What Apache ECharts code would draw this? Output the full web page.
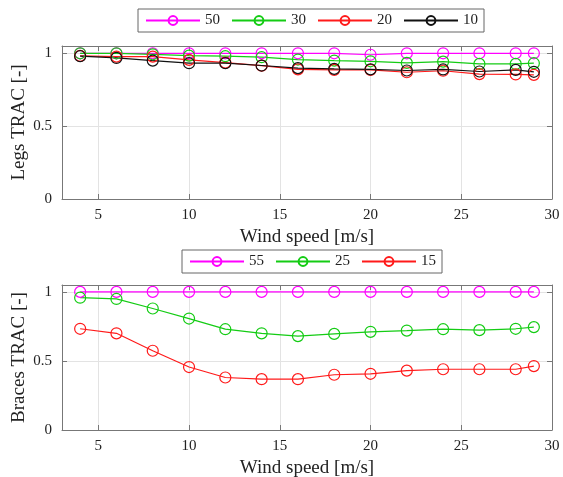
<!DOCTYPE html>
<html>
<head>
<meta charset="utf-8">
<script src="https://cdn.jsdelivr.net/npm/echarts@6/dist/echarts.min.js"></script>
<style>
  html, body { margin: 0; padding: 0; background: #fff; }
  #main { width: 563px; height: 477px; }
</style>
</head>
<body>
<div id="main"></div>
<script>
// wind speeds [m/s]
var windSpeed = [4, 6, 8, 10, 12, 14, 16, 18, 20, 22, 24, 26, 28, 29];

// Legs TRAC
var legs50 = [1.0, 1.0, 1.0, 1.0, 1.0, 1.0, 1.0, 1.0, 0.99, 1.0, 1.0, 1.0, 1.0, 1.0];
var legs30 = [1.0, 1.0, 0.993, 0.984, 0.98, 0.973, 0.957, 0.95, 0.945, 0.934, 0.943, 0.927, 0.927, 0.932];
var legs20 = [0.982, 0.977, 0.977, 0.955, 0.936, 0.915, 0.89, 0.886, 0.886, 0.87, 0.88, 0.857, 0.855, 0.852];
var legs10 = [0.98, 0.968, 0.95, 0.932, 0.932, 0.916, 0.898, 0.893, 0.89, 0.882, 0.889, 0.875, 0.886, 0.873];

// Braces TRAC
var braces55 = [1.0, 1.0, 1.0, 1.0, 1.0, 1.0, 1.0, 1.0, 1.0, 1.0, 1.0, 1.0, 1.0, 1.0];
var braces25 = [0.958, 0.949, 0.88, 0.807, 0.73, 0.70, 0.68, 0.696, 0.711, 0.72, 0.73, 0.723, 0.733, 0.745];
var braces15 = [0.733, 0.70, 0.574, 0.456, 0.38, 0.368, 0.368, 0.40, 0.407, 0.43, 0.44, 0.44, 0.44, 0.463];

var legsNames = ['50', '30', '20', '10'];
var bracesNames = ['55', '25', '15'];
var yTicks = [0, 0.5, 1];

var colors = { '50': '#ff00ff', '55': '#ff00ff', '30': '#14cc14', '25': '#14cc14', '20': '#ff1a1a', '15': '#ff1a1a', '10': '#111111' };
var font = 'Liberation Serif';
var frameColor = '#777';

function pairs(ys) {
  return windSpeed.map(function (x, i) { return [x, ys[i]]; });
}

function mainX(grid) {
  return {
    type: 'value', gridIndex: grid, min: 3, max: 30, splitNumber: 5,
    name: 'Wind speed [m/s]', nameLocation: 'middle', nameGap: 29,
    nameTextStyle: { fontFamily: font, fontSize: 19, color: '#222' },
    axisLine: { onZero: false, lineStyle: { color: frameColor } },
    axisTick: { inside: true, length: 5, lineStyle: { color: frameColor } },
    axisLabel: { showMinLabel: false, fontFamily: font, fontSize: 15, color: '#222', margin: 9 },
    splitLine: { show: true, lineStyle: { color: '#e3e3e3' } }
  };
}
function frameX(grid) {
  return {
    type: 'value', gridIndex: grid, min: 3, max: 30, splitNumber: 5, position: 'top',
    axisLine: { onZero: false, lineStyle: { color: frameColor } },
    axisTick: { inside: true, length: 5, lineStyle: { color: frameColor } },
    axisLabel: { show: false }, splitLine: { show: false }
  };
}
function mainY(grid, name) {
  return {
    type: 'value', gridIndex: grid, min: 0, max: 1.05, interval: 0.5,
    name: name, nameLocation: 'middle', nameGap: 33, nameMoveOverlap: false,
    nameTextStyle: { fontFamily: font, fontSize: 19, color: '#222' },
    axisLine: { show: true, onZero: false, lineStyle: { color: frameColor } },
    axisTick: { show: true, inside: true, length: 5, lineStyle: { color: frameColor } },
    axisLabel: {
      showMaxLabel: false, fontFamily: font, fontSize: 15, color: '#222', margin: 10,
      formatter: function (v) { return yTicks.indexOf(v) >= 0 ? String(v) : ''; }
    },
    splitLine: { show: true, lineStyle: { color: '#e3e3e3' } }
  };
}
function frameY(grid) {
  return {
    type: 'value', gridIndex: grid, min: 0, max: 1.05, interval: 0.5, position: 'right',
    axisLine: { show: true, onZero: false, lineStyle: { color: frameColor } },
    axisTick: { show: true, inside: true, length: 5, lineStyle: { color: frameColor } },
    axisLabel: { show: false }, splitLine: { show: false }
  };
}

function lineSeries(name, ys, xi, yi) {
  return {
    name: name, type: 'line', xAxisIndex: xi, yAxisIndex: yi,
    data: pairs(ys), symbol: 'circle', symbolSize: 11,
    itemStyle: { color: 'rgba(255,255,255,0)', borderColor: colors[name], borderWidth: 1.2 },
    lineStyle: { color: colors[name], width: 1.2 },
    emphasis: { disabled: true }, animation: false
  };
}

var legendBase = {
  orient: 'horizontal', itemWidth: 54, itemHeight: 11, itemGap: 11,
  borderColor: '#666', borderWidth: 1, padding: [4, 6, 4, 7],
  textStyle: { fontFamily: font, fontSize: 15, color: '#222' },
  selectedMode: false
};

var chart = echarts.init(document.getElementById('main'), null, { renderer: 'canvas' });

var option = {
  backgroundColor: '#fff',
  animation: false,
  legend: [
    Object.assign({}, legendBase, { data: legsNames, left: 138, top: 9 }),
    Object.assign({}, legendBase, { data: bracesNames, left: 182, top: 250 })
  ],
  grid: [
    { left: 62, right: 11, top: 46, height: 153, outerBoundsMode: 'none' },
    { left: 62, right: 11, top: 285, height: 145, outerBoundsMode: 'none' }
  ],
  xAxis: [mainX(0), frameX(0), mainX(1), frameX(1)],
  yAxis: [mainY(0, 'Legs TRAC [-]'), frameY(0), mainY(1, 'Braces TRAC [-]'), frameY(1)],
  series: [
    lineSeries('50', legs50, 0, 0),
    lineSeries('30', legs30, 0, 0),
    lineSeries('20', legs20, 0, 0),
    lineSeries('10', legs10, 0, 0),
    lineSeries('55', braces55, 2, 2),
    lineSeries('25', braces25, 2, 2),
    lineSeries('15', braces15, 2, 2)
  ]
};
chart.setOption(option);
</script>
</body>
</html>
